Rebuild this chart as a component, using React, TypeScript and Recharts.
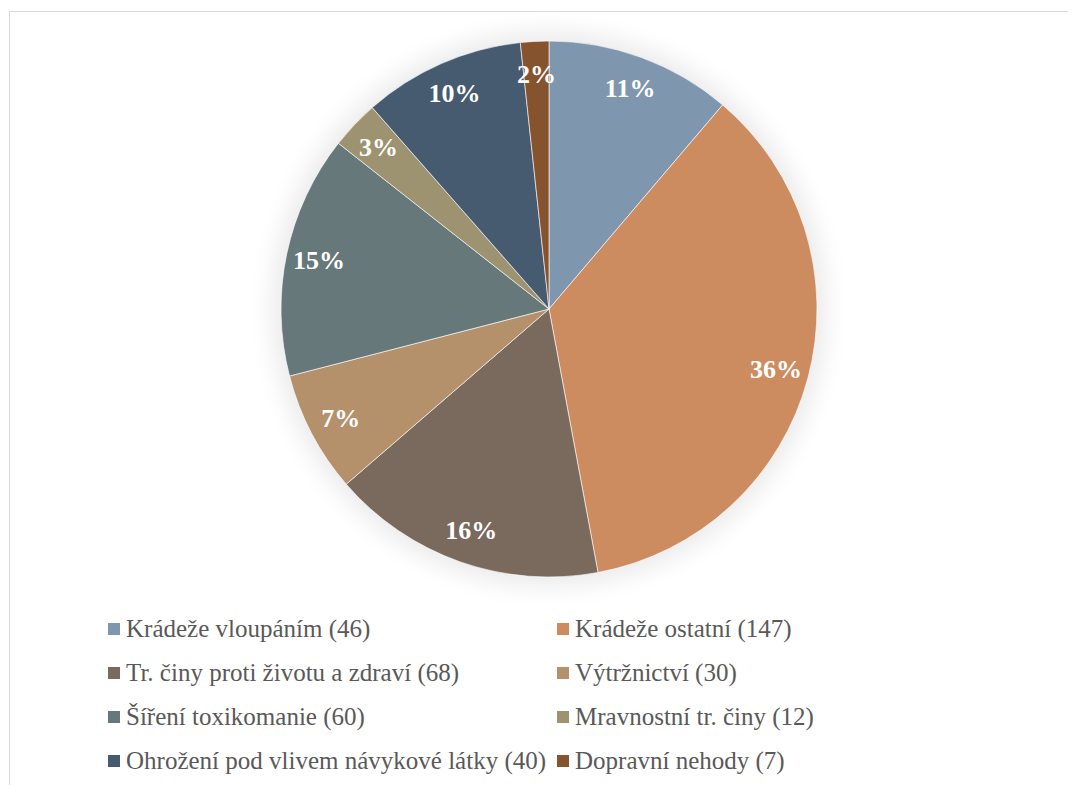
import React from 'react';
import { PieChart, Pie, Cell, Legend } from 'recharts';

const categories = [
  'Krádeže vloupáním',
  'Krádeže ostatní',
  'Tr. činy proti životu a zdraví',
  'Výtržnictví',
  'Šíření toxikomanie',
  'Mravnostní tr. činy',
  'Ohrožení pod vlivem návykové látky',
  'Dopravní nehody',
];
const counts = [46, 147, 68, 30, 60, 12, 40, 7];
const colors = ['#7F97AE', '#CC8C60', '#7A695D', '#B5916B', '#667879', '#9E9370', '#465A70', '#86532F'];

// Excel-style rounding so the shown percentages add up to 100
const roundedPercents = (vals: number[]) => {
  const total = vals.reduce((a, b) => a + b, 0);
  const raw = vals.map((v) => (v / total) * 100);
  const out = raw.map((r) => Math.floor(r));
  let left = 100 - out.reduce((a, b) => a + b, 0);
  const order = raw.map((r, i) => ({ i, rem: r - Math.floor(r) })).sort((a, b) => b.rem - a.rem);
  for (let k = 0; k < left; k++) out[order[k].i] += 1;
  return out;
};
const percentLabels = roundedPercents(counts).map((p) => `${p}%`);

const data = categories.map((name, i) => ({ name: `${name} (${counts[i]})`, value: counts[i], label: percentLabels[i] }));

const W = 1068;
const H = 777;
const CX = 541;
const CY = 301;
const R = 268;
const RAD = Math.PI / 180;
const FONT = "'Liberation Serif', serif";

const renderLabel = (props: any) => {
  const { cx, cy, midAngle, outerRadius, index } = props;
  const r = outerRadius - 33;
  const x = cx + r * Math.cos(-midAngle * RAD);
  const y = cy + r * Math.sin(-midAngle * RAD);
  return (
    <text
      x={x}
      y={y}
      fill="#ffffff"
      textAnchor="middle"
      dominantBaseline="central"
      fontFamily={FONT}
      fontWeight="bold"
      fontSize={26}
    >
      {data[index].label}
    </text>
  );
};

// legend drawn in data order (two columns, like the original)
const renderLegend = () => (
  <div style={{ display: 'grid', gridTemplateColumns: '449px auto', fontFamily: FONT }}>
    {data.map((d, i) => (
      <div key={d.name} style={{ display: 'flex', alignItems: 'center', height: 44 }}>
        <span style={{ width: 12, height: 12, background: colors[i], marginRight: 6, display: 'inline-block' }} />
        <span style={{ color: '#595959', fontSize: 25, whiteSpace: 'nowrap' }}>{d.name}</span>
      </div>
    ))}
  </div>
);

const App = () => {
  return (
    <div style={{ width: W, height: H, overflow: 'hidden', position: 'relative' }}>
      <div
        style={{
          position: 'absolute',
          left: 1,
          top: 3,
          width: 1120,
          height: 820,
          border: '1.5px solid #d9d9d9',
          background: '#fff',
        }}
      />
      <div
        style={{
          position: 'absolute',
          left: CX - R,
          top: CY - R,
          width: R * 2,
          height: R * 2,
          borderRadius: '50%',
          boxShadow: '0 0 26px 8px rgba(0,0,0,0.09)',
        }}
      />
      <PieChart width={W} height={H} margin={{ top: 0, right: 0, bottom: 0, left: 0 }}>
        <Pie
          data={data}
          dataKey="value"
          nameKey="name"
          cx={CX}
          cy={CY}
          outerRadius={R}
          startAngle={90}
          endAngle={-270}
          stroke="rgba(255,255,255,0.6)"
          strokeWidth={1}
          label={renderLabel}
          labelLine={false}
          isAnimationActive={false}
        >
          {data.map((d, i) => (
            <Cell key={d.name} fill={colors[i]} />
          ))}
        </Pie>
        <Legend content={renderLegend} wrapperStyle={{ left: 100, top: 599, width: 900 }} />
      </PieChart>
    </div>
  );
};

export default App;
